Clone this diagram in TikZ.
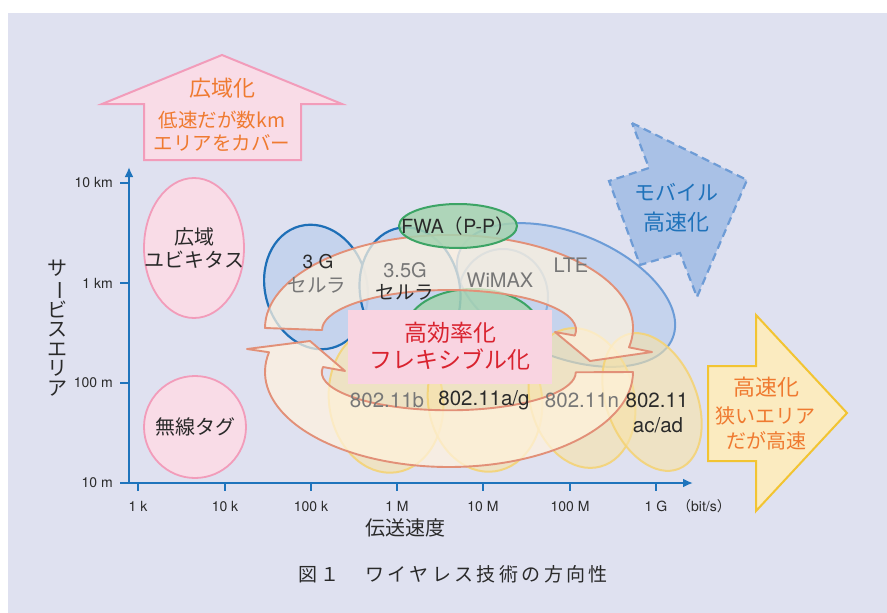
\documentclass[tikz,border=0pt]{standalone}
\usepackage{fontspec}
\setmainfont{TeX Gyre Heros}
\newfontfamily\jp{Noto Sans CJK JP}
\usetikzlibrary{arrows.meta}
\definecolor{bg}{HTML}{DFE1F0}
\definecolor{axisblue}{HTML}{1F74BC}
\definecolor{pinkfill}{HTML}{F9DCE7}
\definecolor{pinkline}{HTML}{F29CBA}
\definecolor{orangetxt}{HTML}{EF7A30}
\definecolor{yelfill}{HTML}{FBEBC0}
\definecolor{yelline}{HTML}{F2C432}
\definecolor{mobfill}{HTML}{A9C1E6}
\definecolor{mobline}{HTML}{6E9CD6}
\definecolor{mobtxt}{HTML}{1F72BA}
\definecolor{celldark}{HTML}{1E6FB7}
\definecolor{celllight}{HTML}{6C9CD7}
\definecolor{cellfill}{HTML}{C5D3ED}
\definecolor{greenline}{HTML}{3CA465}
\definecolor{greenfill}{HTML}{A6D3B0}
\definecolor{wififill}{HTML}{F8E3A8}
\definecolor{wifiline}{HTML}{F4D376}
\definecolor{ringline}{HTML}{E29078}
\definecolor{ringfill}{HTML}{FFF3DE}
\definecolor{boxfill}{HTML}{F9D4E1}
\definecolor{boxtxt}{HTML}{D9232F}
\definecolor{dtxt}{HTML}{2A2A2A}
\definecolor{gtxt}{HTML}{777777}
\newcommand{\myfs}[1]{\fontsize{#1}{#1}\selectfont}
\tikzset{
  lbl/.style={inner sep=0pt, anchor=center},
  tick/.style={axisblue, line width=2.2pt},
  ticklbl/.style={lbl, text=dtxt, font=\myfs{14}},
  jptxt/.style={lbl, text=dtxt, font={\jp\myfs{20}}},
  pinkell/.style={fill=pinkfill, draw=pinkline, line width=1.8pt},
  celld/.style={fill=cellfill, draw=celldark, line width=2.2pt},
  celll/.style={fill=cellfill, draw=celllight, line width=2pt},
  greenell/.style={fill=greenfill, fill opacity=0.85, draw=greenline, line width=2pt},
  wifiell/.style={fill=wififill, fill opacity=0.6, draw=wifiline, draw opacity=0.9, line width=2pt},
  ring/.style={fill=ringfill, fill opacity=0.72, draw=ringline, line width=1.9pt, line join=round},
  bigarrow/.style={line width=2pt, line join=miter},
}
\begin{document}
\begin{tikzpicture}[x=1pt,y=-1pt]
\useasboundingbox (0,0) rectangle (887,613);
\fill[bg] (8,13) rectangle (887,613);

% ---------- axes ----------
\coordinate (O) at (129,483);
\coordinate (xstart) at (120,483);
\coordinate (xend) at (693,483);
\coordinate (yend) at (129,167);
\draw[axisblue, line width=2.4pt, -{Latex[length=10pt,width=9pt]}] (xstart) -- (xend);
\draw[axisblue, line width=2.4pt, -{Latex[length=10pt,width=9pt]}] (O) -- (yend);
\foreach \y/\t/\n in {183/10 km/ya, 283/1 km/yb, 383/100 m/yc, 483/10 m/yd}{
  \draw[tick] (120,\y) -- (129,\y);
  \node[ticklbl, anchor=east] (\n) at (113,\y) {\t};
}
\foreach \x/\t/\n in {138/1 k/xa, 225/10 k/xb, 311/100 k/xc, 397/1 M/xd, 483/10 M/xe, 570/100 M/xf, 656/1 G/xg}{
  \draw[tick] (\x,483) -- (\x,491);
  \node[ticklbl] (\n) at (\x,506) {\t};
}
\node[ticklbl] (unit) at (704,506) {{\jp （}bit/s{\jp ）}};
\node[jptxt] (xlab) at (405,528) {伝送速度};
\node[lbl, text=dtxt, font={\jp\myfs{20}}, align=center] (ylab) at (57,328)
  {サ\\[-0.5pt]\rotatebox[origin=c]{-90}{ー}\\[-0.5pt]ビ\\[-0.5pt]ス\\[-0.5pt]エ\\[-0.5pt]リ\\[-0.5pt]ア};

% ---------- left pink ellipses ----------
\draw[pinkell] (194,248) ellipse [x radius=50, y radius=70];
\draw[pinkell] (195,427) ellipse [x radius=51, y radius=51];

% ---------- cellular ----------
\draw[celll, rotate around={-22:(566,295)}] (566,295) ellipse [x radius=115, y radius=62];
\draw[celll, draw=celllight!80, fill opacity=0.35] (503,297) ellipse [x radius=45, y radius=48];
\draw[celld, rotate around={15:(316,287)}] (316,287) ellipse [x radius=51, y radius=63];
\draw[celld, fill opacity=0.9, rotate around={10:(410,291)}] (410,291) ellipse [x radius=50, y radius=64];
\draw[greenell] (473,330) ellipse [x radius=67, y radius=41];

% ---------- wifi ----------
\draw[wifiell, rotate around={8:(386,400)}] (386,400) ellipse [x radius=57, y radius=73];
\draw[wifiell, rotate around={8:(485,400)}] (485,400) ellipse [x radius=57, y radius=72];
\draw[wifiell, rotate around={15:(582,398)}] (582,398) ellipse [x radius=52, y radius=71];
\draw[wifiell, rotate around={22:(652,402)}] (652,402) ellipse [x radius=45, y radius=72];

% ---------- spiral arrows ----------
\draw[ring] (633,372) arc[start angle=0, end angle=192, x radius=184, y radius=95]
  -- (247,349) -- (310,341) -- (345,371) -- (323,367)
  arc[start angle=188, end angle=0, x radius=127, y radius=38] -- cycle;
\draw[ring] (265,328) arc[start angle=180, end angle=372, x radius=184, y radius=93]
  -- (652,352) -- (590,361) -- (555,332) -- (574.8,335.6)
  arc[start angle=368, end angle=180, x radius=127, y radius=40] -- cycle;

\draw[greenell] (458,226) ellipse [x radius=59, y radius=22];

% ---------- centre box ----------
\node[fill=boxfill, minimum width=204pt, minimum height=74pt, inner sep=0pt] (box) at (450,347) {};
\node[lbl, text=boxtxt, font={\jp\myfs{23}}] (box1) at (450,333) {高効率化};
\node[lbl, text=boxtxt, font={\jp\myfs{23}}] (box2) at (450,360) {フレキシブル化};

% ---------- labels ----------
\node[jptxt] (ub1) at (194,237) {広域};
\node[jptxt] (ub2) at (194,260) {ユビキタス};
\node[jptxt] (tag) at (195,427) {無線タグ};
\node[lbl, text=dtxt, font=\myfs{19}] (g3) at (318,262) {3 G};
\node[lbl, text=gtxt, font={\jp\myfs{19.5}}] (g3b) at (317,285) {セルラ};
\node[lbl, text=gtxt, font=\myfs{20}] (g35) at (405,270) {3.5G};
\node[lbl, text=dtxt, font={\jp\myfs{19.5}}] (g35b) at (405,292) {セルラ};
\node[lbl, text=gtxt, font=\myfs{20}] (wimax) at (500,280) {WiMAX};
\node[lbl, text=gtxt, font=\myfs{20}] (lte) at (571,265) {LTE};
\node[lbl, text=dtxt, font=\myfs{19.5}] (fwa) at (458,226) {FWA{\jp （}P-P{\jp ）}};
\node[lbl, text=gtxt, font=\myfs{20.5}] (w1) at (387,400) {802.11b};
\node[lbl, text=dtxt, font=\myfs{20.5}] (w2) at (484,400) {802.11a/g};
\node[lbl, text=gtxt, font=\myfs{20.5}] (w3) at (582,400) {802.11n};
\node[lbl, text=dtxt, font=\myfs{20.5}] (w4) at (657,400) {802.11};
\node[lbl, text=dtxt, font=\myfs{20.5}] (w4b) at (658,425) {ac/ad};

% ---------- big arrows ----------
\draw[bigarrow, fill=pinkfill, draw=pinkline] (222,55) -- (342,104) -- (301,104) -- (301,160)
  -- (144,160) -- (144,104) -- (102,104) -- cycle;
\node[lbl, text=orangetxt, font={\jp\myfs{22}}] (up1) at (222,88) {広域化};
\node[lbl, text=orangetxt, font={\jp\myfs{19.5}}] (up2) at (222,120) {低速だが数km};
\node[lbl, text=orangetxt, font={\jp\myfs{19.5}}] (up3) at (222,143) {エリアをカバー};

\draw[bigarrow, fill=yelfill, draw=yelline] (708,366) -- (756,366) -- (756,315) -- (847,413)
  -- (756,511) -- (756,461) -- (708,461) -- cycle;
\node[lbl, text=orangetxt, font={\jp\myfs{22}}] (rt1) at (766,387) {高速化};
\node[lbl, text=orangetxt, font={\jp\myfs{20}}] (rt2) at (765,416) {狭いエリア};
\node[lbl, text=orangetxt, font={\jp\myfs{20}}] (rt3) at (766,441) {だが高速};

\draw[line width=2.2pt, fill=mobfill, draw=mobline, dash pattern=on 8pt off 5pt, line join=miter]
  (632,123) -- (747,180) -- (697,297) -- (680,253) -- (640,265) -- (609,181) -- (649,168) -- cycle;
\node[lbl, text=mobtxt, font={\jp\myfs{21}}] (mb1) at (676,192) {モバイル};
\node[lbl, text=mobtxt, font={\jp\myfs{22}}] (mb2) at (676,222) {高速化};

% ---------- caption ----------
\node[lbl, text=dtxt, font={\jp\myfs{19}\addfontfeature{LetterSpace=18}}] (cap) at (453,574) {図１　ワイヤレス技術の方向性};
\end{tikzpicture}
\end{document}
